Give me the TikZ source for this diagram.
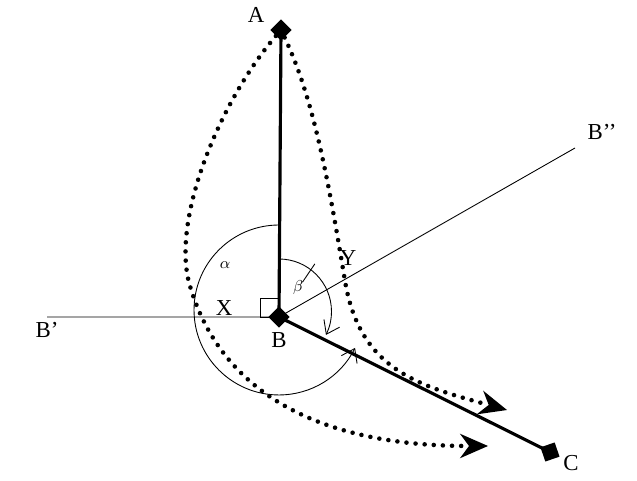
\documentclass[tikz,border=0pt]{standalone}
\usepackage{fontspec}
\setmainfont{Liberation Serif}
\usetikzlibrary{arrows.meta}
\begin{document}
\begin{tikzpicture}[x=0.02cm,y=0.02cm,font=\fontsize{13}{15}\selectfont,
  point/.style={fill=black,inner sep=0pt,minimum size=0.3cm,rotate=45},
  bar/.style={line width=1.8pt},
  ray/.style={line width=0.5pt},
  route/.style={line width=2.6pt,dash pattern=on 0pt off 5.2pt,line cap=round,
    -{Stealth[length=16pt,width=14pt,line cap=butt,line width=0pt]}},
  turn/.style={line width=0.5pt,-{Straight Barb[length=7pt,width=10pt]}}]
\useasboundingbox (0,0) rectangle (637,481);
%%\draw[help lines] (0,0) grid (637,481);
\node [point] (A) at (281,451) {};
\node [point] (B) at (279,164) {};
\node [point,rotate=-26] (C) at (550,29) {};
\coordinate (Bl) at (47,164);
\coordinate (Bu) at (575,333);
\coordinate (P) at (488,35);
\coordinate (Q) at (507,71);
\draw [ray] (Bl) -- (B.center) -- (Bu);
\draw [ray] (B.center) ++(-19,0) rectangle ++(19,19);
\draw [bar] (A.center) -- (B.center) -- (C.center);
\draw [turn] (B.center) ++(0,92) arc [start angle=90,end angle=333.5,radius=1.7cm];
\draw [turn] (B.center) ++(0,58) arc [start angle=90,end angle=-26.5,radius=1.05cm];
\draw [ray] (B.center) ++(56:42) -- ++(56:22);
\draw [route] (A) .. controls (220,380) and (170,260) .. (190,195)
  .. controls (215,110) and (290,35) .. (P);
\draw [route] (A) .. controls (315,380) and (330,290) .. (345,200)
  .. controls (360,110) and (420,95) .. (Q);
\node (la) at (256,466) {A};
\node (lb) at (279,141) {B};
\node (lc) at (571,18) {C};
\node (lbl) at (47,151) {B'};
\node (lbu) at (602,349) {B'{}'};
\node (lx) at (224,173) {X};
\node (ly) at (348,223) {Y};
\node (lal) at (225,216) {\small$\alpha$};
\node (lbe) at (298,193) {\small$\beta$};
\end{tikzpicture}
\end{document}
